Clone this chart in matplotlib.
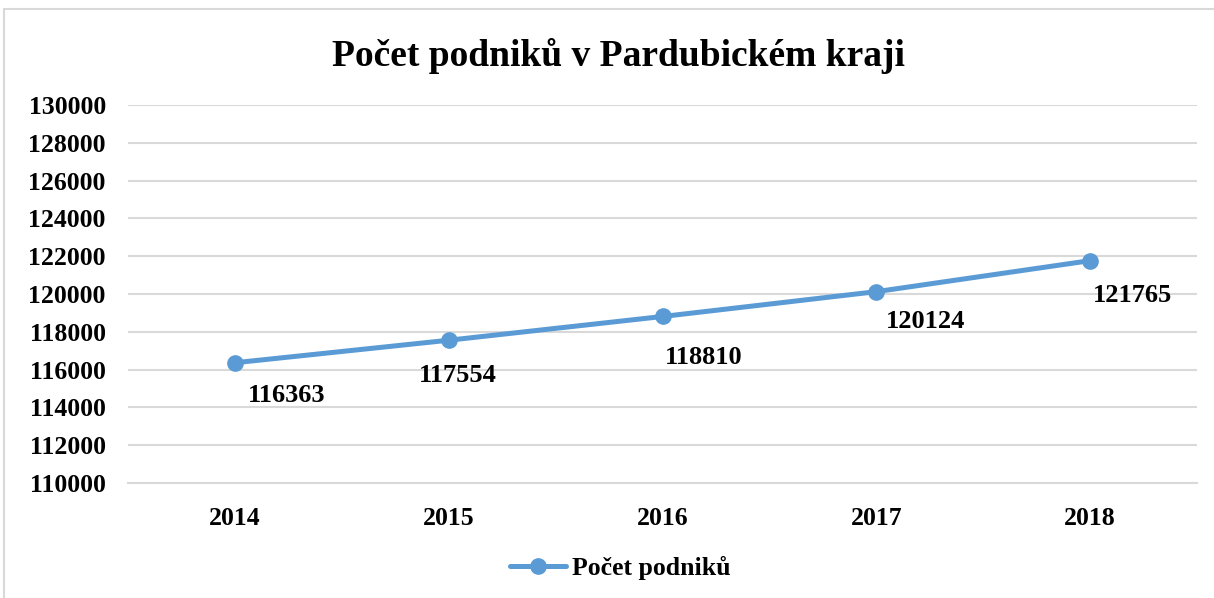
import matplotlib
matplotlib.use("Agg")
import matplotlib.pyplot as plt
from matplotlib.patches import Rectangle

years = ["2014", "2015", "2016", "2017", "2018"]
podniky = [116363, 117554, 118810, 120124, 121765]
y_ticks = list(range(110000, 130001, 2000))

TITLE = "Počet podniků v Pardubickém kraji"
SERIES = "Počet podniků"
BLUE = "#5B9BD5"
GRID = "#D9D9D9"

# label offsets (pixels) relative to each point, as placed in the original
label_offsets = [(52, -33), (9, -35), (41, -41), (49, -30), (42, -35)]


def main() -> None:
    plt.rcParams["font.family"] = ["Liberation Serif", "DejaVu Serif"]
    plt.rcParams["font.weight"] = "bold"

    fig = plt.figure(figsize=(12.14, 5.98), dpi=100)
    ax = fig.add_axes([128 / 1214, 115 / 598, 1069 / 1214, 378 / 598])

    x = list(range(len(years)))
    ax.plot(x, podniky, color=BLUE, linewidth=3.6, marker="o", markersize=11,
            solid_capstyle="round", label=SERIES, zorder=3)

    for xi, val, (dx, dy) in zip(x, podniky, label_offsets):
        ax.annotate(str(val), (xi, val), textcoords="offset pixels",
                    xytext=(dx, dy), ha="center", va="center",
                    fontsize=19, fontweight="bold", color="black")

    ax.set_xlim(-0.5, len(years) - 0.5)
    ax.set_ylim(110000, 130000)
    ax.set_yticks(y_ticks)
    ax.set_yticklabels([str(v) for v in y_ticks])
    ax.set_xticks(x)
    ax.set_xticklabels(years)
    ax.tick_params(axis="both", length=0, labelsize=18.5, colors="black")
    ax.tick_params(axis="y", pad=16)
    ax.tick_params(axis="x", pad=17)
    for lbl in ax.get_xticklabels() + ax.get_yticklabels():
        lbl.set_fontweight("bold")

    ax.grid(axis="y", color=GRID, linewidth=1.5)
    ax.set_axisbelow(True)
    for side in ["top", "right", "left"]:
        ax.spines[side].set_visible(False)
    ax.spines["bottom"].set_color(GRID)
    ax.spines["bottom"].set_linewidth(1.5)

    fig.text(618 / 1214, 1 - 56 / 598, TITLE, ha="center", va="center",
             fontsize=27, fontweight="bold")

    leg = fig.legend(loc="center", bbox_to_anchor=(620 / 1214, 1 - 568 / 598),
                     frameon=False, fontsize=18.5, handlelength=2.2,
                     handletextpad=0.2)
    for t in leg.get_texts():
        t.set_fontweight("bold")

    # chart area border
    fig.patches.append(Rectangle((4 / 1214, -0.05), 1.1, 1 - 9 / 598 + 0.05,
                                 transform=fig.transFigure, fill=False,
                                 edgecolor="#D9D9D9", linewidth=1.5))

    fig.savefig("out.png", dpi=100)


if __name__ == "__main__":
    main()
